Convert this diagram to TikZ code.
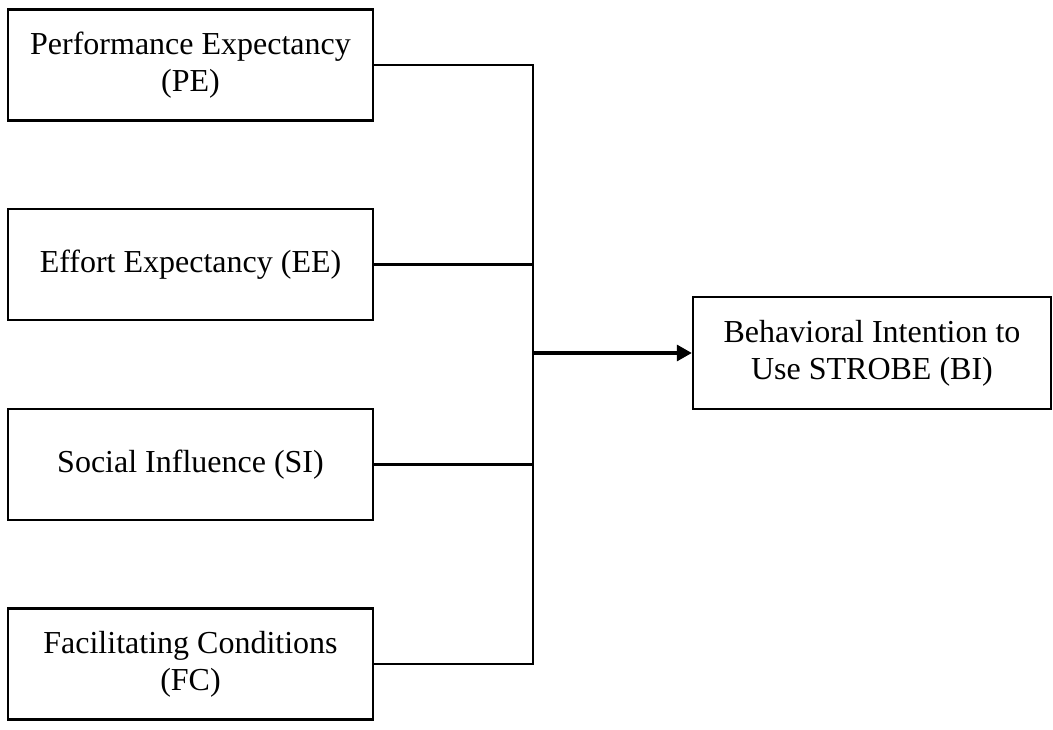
\documentclass[tikz,border=0pt]{standalone}
\usepackage{fontspec}
\setmainfont{Liberation Serif}
\usetikzlibrary{arrows.meta}
\begin{document}
\begin{tikzpicture}[x=1pt,y=-1pt,
  factor/.style={draw=black, line width=2.3pt, rectangle, minimum width=365pt, minimum height=111pt, align=center, inner sep=0pt, font=\fontsize{32}{37}\selectfont},
  target/.style={factor, minimum width=358pt, minimum height=112pt},
  link/.style={draw=black, line width=2.2pt, line join=miter},
  mainarrow/.style={draw=black, line width=3.2pt, -{Triangle[length=15pt,width=16pt]}}
]
\useasboundingbox (0,0) rectangle (1053,730);
\node[factor] (pe) at (190.5,65) {Performance Expectancy\\(PE)};
\node[factor] (ee) at (190.5,264.5) {Effort Expectancy (EE)};
\node[factor] (si) at (190.5,464.5) {Social Influence (SI)};
\node[factor] (fc) at (190.5,664) {Facilitating Conditions\\(FC)};
\node[target] (bi) at (872,353) {Behavioral Intention to\\Use STROBE (BI)};
\coordinate (junc) at (533,353);
\draw[link] (pe.east) -| (junc);
\draw[link] (ee.east) -| (junc);
\draw[link] (si.east) -| (junc);
\draw[link] (fc.east) -| (junc);
\draw[mainarrow] (junc) -- (bi.west);
\end{tikzpicture}
\end{document}
